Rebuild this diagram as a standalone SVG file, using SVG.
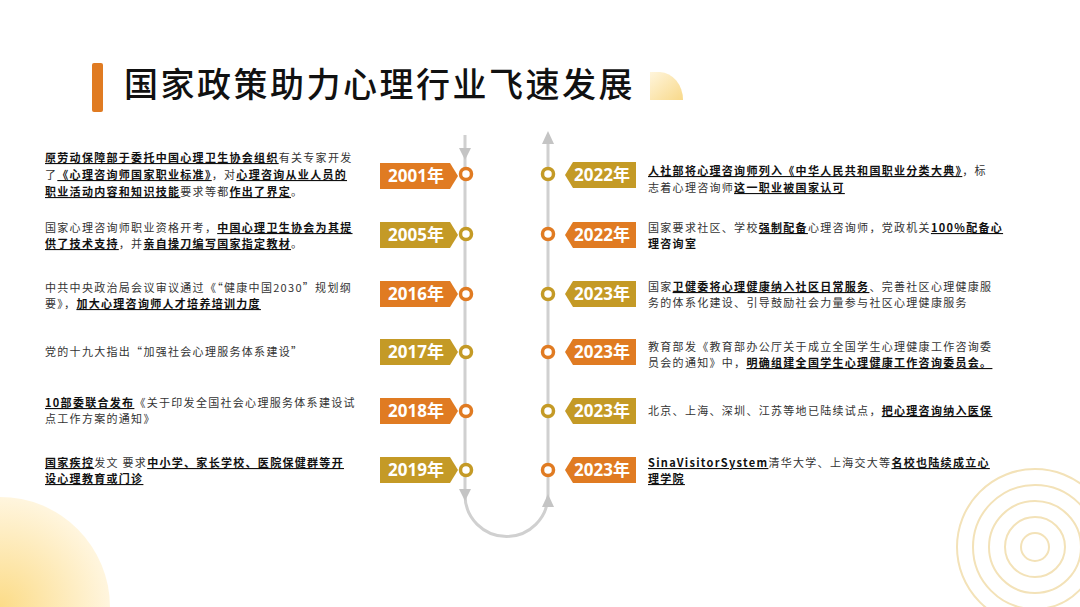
<svg xmlns="http://www.w3.org/2000/svg" width="1080" height="607" viewBox="0 0 1080 607">
<defs>
<style>
.t{font-family:"Noto Sans CJK SC","Noto Sans",sans-serif;font-size:11px;fill:#333;letter-spacing:1.3px}
.b{font-weight:bold;fill:#111;text-decoration:underline}
.yr{font-family:"Noto Sans","Noto Sans CJK SC",sans-serif;font-size:17px;font-weight:bold;fill:#fff;text-anchor:middle}
.ln{stroke:#d0d0d0;stroke-width:3;fill:none}
.o{fill:#E07B22}.g{fill:#C49A26}
.co{fill:#fff;stroke:#E07B22;stroke-width:3.5}.cg{fill:#fff;stroke:#C49A26;stroke-width:3.5}
.ring{fill:none;stroke:#F3E2B8;stroke-width:2}
</style>
<radialGradient id="bl" cx="0" cy="1" r="1">
<stop offset="0" stop-color="#FBD36A"/><stop offset="1" stop-color="#FFF3D6"/></radialGradient>
<linearGradient id="tg" x1="0" y1="0" x2="1" y2="1"><stop offset="0" stop-color="#FFF5DC"/><stop offset="1" stop-color="#F8D98A"/></linearGradient>
</defs>
<rect width="1080" height="607" fill="#fff"/>
<path d="M0 497 A110 110 0 0 1 110 607 L0 607Z" fill="url(#bl)" opacity="0.8"/>
<g class="ring">
<circle cx="1035" cy="547" r="14"/><circle cx="1035" cy="547" r="30"/><circle cx="1035" cy="547" r="46"/><circle cx="1035" cy="547" r="62"/><circle cx="1035" cy="547" r="78"/>
</g>
<g id="title">
<rect x="92" y="63" width="11" height="49" rx="2" fill="#E07B22"/>
<text x="124" y="97" font-family="Noto Sans CJK SC,sans-serif" font-size="34" font-weight="500" fill="#111" letter-spacing="2.5">国家政策助力心理行业飞速发展</text>
<path d="M650 100 L650 72 L660 72 A24 28 0 0 1 683 100Z" fill="url(#tg)"/>
</g>
<g id="connectors">
<path class="ln" d="M465 135 V495 A41 41 0 0 0 548 495 V135"/>
<path d="M459 148 L471 148 L465 160Z" fill="#c4c4c4"/>
<path d="M459 489 L471 489 L465 501Z" fill="#c4c4c4"/>
<path d="M542 144 L554 144 L548 131Z" fill="#c4c4c4"/>
<path d="M542 507 L554 507 L548 494Z" fill="#c4c4c4"/>
</g>
<g id="left">
<g id="n2001"><path class="o" d="M380 163 H450 L458 176 L450 189 H380Z"/><text class="yr" x="416" y="182">2001年</text><circle class="co" cx="466" cy="174" r="5.5"/>
<text class="t" x="45" y="162"><tspan class="b">原劳动保障部于委托中国心理卫生协会组织</tspan>有关专家开发</text>
<text class="t" x="45" y="179">了<tspan class="b">《心理咨询师国家职业标准》</tspan>，对<tspan class="b">心理咨询从业人员的</tspan></text>
<text class="t" x="45" y="196"><tspan class="b">职业活动内容和知识技能</tspan>要求等都<tspan class="b">作出了界定</tspan>。</text></g>
<g id="n2005"><path class="g" d="M380 222 H450 L458 235 L450 248 H380Z"/><text class="yr" x="416" y="241">2005年</text><circle class="cg" cx="466" cy="234" r="5.5"/>
<text class="t" x="45" y="232">国家心理咨询师职业资格开考，<tspan class="b">中国心理卫生协会为其提</tspan></text>
<text class="t" x="45" y="248"><tspan class="b">供了技术支持</tspan>，并<tspan class="b">亲自操刀编写国家指定教材</tspan>。</text></g>
<g id="n2016"><path class="o" d="M380 281 H450 L458 294 L450 307 H380Z"/><text class="yr" x="416" y="300">2016年</text><circle class="co" cx="466" cy="294" r="5.5"/>
<text class="t" x="45" y="292">中共中央政治局会议审议通过《“健康中国2030”规划纲</text>
<text class="t" x="45" y="308">要》，<tspan class="b">加大心理咨询师人才培养培训力度</tspan></text></g>
<g id="n2017"><path class="g" d="M380 339 H450 L458 352 L450 365 H380Z"/><text class="yr" x="416" y="358">2017年</text><circle class="cg" cx="466" cy="352" r="5.5"/>
<text class="t" x="45" y="356">党的十九大指出“加强社会心理服务体系建设”</text></g>
<g id="n2018"><path class="o" d="M380 398 H450 L458 411 L450 424 H380Z"/><text class="yr" x="416" y="417">2018年</text><circle class="co" cx="466" cy="411" r="5.5"/>
<text class="t" x="45" y="407"><tspan class="b">10部委联合发布</tspan>《关于印发全国社会心理服务体系建设试</text>
<text class="t" x="45" y="423">点工作方案的通知》</text></g>
<g id="n2019"><path class="g" d="M380 457 H450 L458 470 L450 483 H380Z"/><text class="yr" x="416" y="476">2019年</text><circle class="cg" cx="466" cy="470" r="5.5"/>
<text class="t" x="45" y="467"><tspan class="b">国家疾控</tspan>发文 要求<tspan class="b">中小学、家长学校、医院保健群等开</tspan></text>
<text class="t" x="45" y="483"><tspan class="b">设心理教育或门诊</tspan></text></g>
</g>
<g id="right">
<g id="r1"><path class="g" d="M636 162 H573 L565 175 L573 188 H636Z"/><text class="yr" x="602" y="181">2022年</text><circle class="cg" cx="548" cy="174" r="5.5"/>
<text class="t" x="648" y="175"><tspan class="b">人社部将心理咨询师列入《中华人民共和国职业分类大典》</tspan>，标</text>
<text class="t" x="648" y="192">志着心理咨询师<tspan class="b">这一职业被国家认可</tspan></text></g>
<g id="r2"><path class="o" d="M636 222 H573 L565 235 L573 248 H636Z"/><text class="yr" x="602" y="241">2022年</text><circle class="co" cx="548" cy="234" r="5.5"/>
<text class="t" x="648" y="232" letter-spacing="1">国家要求社区、学校<tspan class="b">强制配备</tspan>心理咨询师，党政机关<tspan class="b">100%配备心</tspan></text>
<text class="t" x="648" y="248"><tspan font-weight="bold" fill="#111">理咨询室</tspan></text></g>
<g id="r3"><path class="g" d="M636 281 H573 L565 294 L573 307 H636Z"/><text class="yr" x="602" y="300">2023年</text><circle class="cg" cx="548" cy="294" r="5.5"/>
<text class="t" x="648" y="291">国家<tspan class="b">卫健委将心理健康纳入社区日常服务</tspan>、完善社区心理健康服</text>
<text class="t" x="648" y="307">务的体系化建设、引导鼓励社会力量参与社区心理健康服务</text></g>
<g id="r4"><path class="o" d="M636 339 H573 L565 352 L573 365 H636Z"/><text class="yr" x="602" y="358">2023年</text><circle class="co" cx="548" cy="352" r="5.5"/>
<text class="t" x="648" y="351">教育部发《教育部办公厅关于成立全国学生心理健康工作咨询委</text>
<text class="t" x="648" y="367">员会的通知》中，<tspan class="b">明确组建全国学生心理健康工作咨询委员会。</tspan></text></g>
<g id="r5"><path class="g" d="M636 398 H573 L565 411 L573 424 H636Z"/><text class="yr" x="602" y="417">2023年</text><circle class="cg" cx="548" cy="411" r="5.5"/>
<text class="t" x="648" y="415">北京、上海、深圳、江苏等地已陆续试点，<tspan class="b">把心理咨询纳入医保</tspan></text></g>
<g id="r6"><path class="o" d="M636 457 H573 L565 470 L573 483 H636Z"/><text class="yr" x="602" y="476">2023年</text><circle class="co" cx="548" cy="470" r="5.5"/>
<text class="t" x="648" y="467"><tspan class="b">SinaVisitorSystem</tspan>清华大学、上海交大等<tspan class="b">名校也陆续成立心</tspan></text>
<text class="t" x="648" y="483"><tspan class="b">理学院</tspan></text></g>
</g>
</svg>
